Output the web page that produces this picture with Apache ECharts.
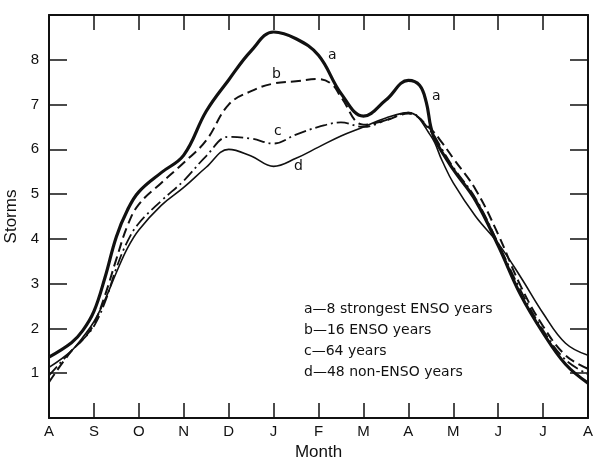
<!DOCTYPE html>
<html><head><meta charset="utf-8">
<script src="https://cdn.jsdelivr.net/npm/echarts@6/dist/echarts.min.js"></script>
<style>html,body{margin:0;padding:0;background:#fff}#c{width:593px;height:458px}</style>
</head><body><div id="c"></div>
<script>
var monthLabels = ['A','S','O','N','D','J','F','M','A','M','J','J','A'];
var yTicks = [1,2,3,4,5,6,7,8];

var aX = [0,0.5,0.75,1,1.25,1.5,1.75,2,2.5,3,3.5,4,4.5,5,5.5,6,6.5,7,7.5,8,8.25,8.4,8.5,8.6,9,9.5,10,10.5,11,11.5,12];
var aY = [1.36,1.68,1.95,2.38,3.15,4.05,4.65,5.05,5.48,5.87,6.85,7.55,8.2,8.62,8.47,8.1,7.25,6.74,7.1,7.54,7.43,7.05,6.5,6.2,5.55,4.85,3.85,2.75,1.9,1.2,0.78];

var bX = [0,0.5,0.75,1,1.25,1.5,1.75,2,2.5,3,3.5,4,4.5,5,5.5,6,6.3,6.5,7,7.5,8,8.5,8.75,9,9.5,10,10.5,11,11.5,12];
var bY = [0.8,1.5,1.75,2.1,2.75,3.55,4.3,4.77,5.25,5.7,6.2,7.0,7.3,7.47,7.52,7.57,7.45,7.17,6.55,6.65,6.8,6.45,6.15,5.8,5.1,4.1,2.95,2.05,1.4,1.1];

var cX = [0,0.5,0.75,1,1.25,1.5,1.75,2,2.5,3,3.5,4,4.5,5,5.5,6,6.5,7,7.5,8,8.5,8.75,9,9.5,10,10.5,11,11.5,12];
var cY = [0.95,1.5,1.75,2.05,2.6,3.35,3.95,4.35,4.85,5.3,5.85,6.28,6.24,6.13,6.33,6.5,6.6,6.5,6.65,6.82,6.4,6.0,5.6,4.9,3.9,2.85,1.96,1.3,0.98];

var dX = [0,0.5,0.75,1,1.25,1.5,1.75,2,2.5,3,3.5,4,4.5,5,5.5,6,6.5,7,7.5,8,8.5,8.75,9,9.5,10,10.5,11,11.5,12];
var dY = [1.13,1.5,1.8,2.15,2.65,3.25,3.8,4.2,4.75,5.15,5.6,6.0,5.85,5.62,5.8,6.05,6.3,6.5,6.7,6.82,6.3,5.75,5.25,4.5,3.9,3.15,2.34,1.67,1.4];

var legendLines = ['a\u20148 strongest ENSO years','b\u201416 ENSO years','c\u201464 years','d\u201448 non-ENSO years'];

function pairs(xs, ys){ return xs.map(function(x,i){ return [x, ys[i]]; }); }

var FONT = 'Liberation Sans, Arial, sans-serif';
var LFONT = 'DejaVu Sans, Liberation Sans, sans-serif';
var ink = '#111';

var chart = echarts.init(document.getElementById('c'));
var lineCommon = {type:'line', smooth:0.4, symbol:'none', silent:true, animation:false};

function axisBase(extra){
  return Object.assign({
    axisLine:{show:true, onZero:false, lineStyle:{color:ink, width:2}},
    splitLine:{show:false}
  }, extra);
}

chart.setOption({
  animation:false,
  backgroundColor:'#fff',
  grid:{left:49, right:5, top:15, bottom:40, containLabel:false, outerBoundsMode:'none'},
  xAxis:[axisBase({
    type:'value', min:0, max:12, interval:1, position:'bottom',
    axisTick:{show:true, inside:true, length:15, lineStyle:{color:ink, width:1.5}},
    axisLabel:{color:ink, fontSize:15, fontFamily:FONT, margin:6,
      formatter:function(v){ return monthLabels[Math.round(v)] || ''; }},
    name:'Month', nameLocation:'middle', nameGap:26,
    nameTextStyle:{color:ink, fontSize:17, fontFamily:FONT}
  }), axisBase({
    type:'value', min:0, max:12, interval:1, position:'top',
    axisTick:{show:true, inside:true, length:15, lineStyle:{color:ink, width:1.5}},
    axisLabel:{show:false}
  })],
  yAxis:[axisBase({
    type:'value', min:0, max:9, interval:1, position:'left',
    axisTick:{show:true, inside:true, length:18, lineStyle:{color:ink, width:1.5}},
    axisLabel:{color:ink, fontSize:15, fontFamily:FONT, margin:10,
      formatter:function(v){ return yTicks.indexOf(v) >= 0 ? String(v) : ''; }},
    name:'Storms', nameLocation:'middle', nameGap:17, nameRotate:90,
    nameTextStyle:{color:ink, fontSize:17, fontFamily:FONT}
  }), axisBase({
    type:'value', min:0, max:9, interval:1, position:'right',
    axisTick:{show:true, inside:true, length:18, lineStyle:{color:ink, width:1.5}},
    axisLabel:{show:false}
  })],
  series:[
    Object.assign({}, lineCommon, {name:'a', data:pairs(aX,aY), lineStyle:{color:ink, width:3.2, type:'solid'}}),
    Object.assign({}, lineCommon, {name:'b', data:pairs(bX,bY), lineStyle:{color:ink, width:2, type:[10,5]}}),
    Object.assign({}, lineCommon, {name:'c', data:pairs(cX,cY), lineStyle:{color:ink, width:1.8, type:[12,4,2,4]}}),
    Object.assign({}, lineCommon, {name:'d', data:pairs(dX,dY), lineStyle:{color:ink, width:1.6, type:'solid'}})
  ],
  graphic:[
    {type:'text', left:328, top:48, style:{text:'a', fill:ink, font:'14px '+LFONT}},
    {type:'text', left:432, top:89, style:{text:'a', fill:ink, font:'14px '+LFONT}},
    {type:'text', left:272, top:67, style:{text:'b', fill:ink, font:'14px '+LFONT}},
    {type:'text', left:274, top:124, style:{text:'c', fill:ink, font:'14px '+LFONT}},
    {type:'text', left:294, top:159, style:{text:'d', fill:ink, font:'14px '+LFONT}},
    {type:'text', left:304, top:302, style:{text:legendLines[0], fill:ink, font:'14px '+LFONT}},
    {type:'text', left:304, top:323, style:{text:legendLines[1], fill:ink, font:'14px '+LFONT}},
    {type:'text', left:304, top:344, style:{text:legendLines[2], fill:ink, font:'14px '+LFONT}},
    {type:'text', left:304, top:365, style:{text:legendLines[3], fill:ink, font:'14px '+LFONT}}
  ]
});
</script></body></html>
